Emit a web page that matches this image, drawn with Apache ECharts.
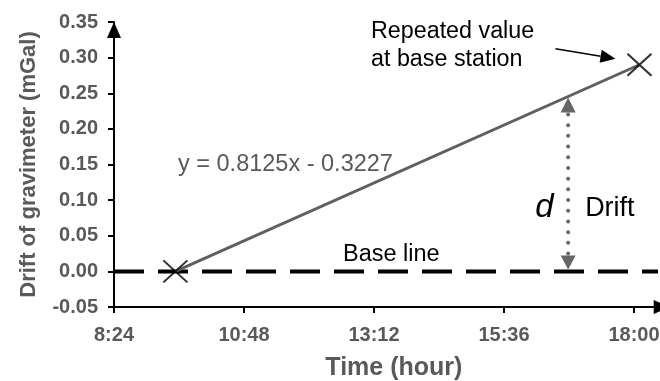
<!DOCTYPE html>
<html>
<head>
<meta charset="utf-8">
<script src="https://cdn.jsdelivr.net/npm/echarts@6/dist/echarts.min.js"></script>
<style>
  html, body { margin: 0; padding: 0; background: #ffffff; }
  #chart { width: 660px; height: 381px; }
</style>
</head>
<body>
<div id="chart"></div>
<script>
// Time values are minutes after midnight.
const timeTicks = [504, 648, 792, 936, 1080];
const timeTickLabels = ['8:24', '10:48', '13:12', '15:36', '18:00'];
const timeRange = [504, 1104];

// Drift axis (mGal)
const driftRange = [-0.05, 0.35];
const driftStep = 0.05;

// Base-station readings: first occupation and the repeated value
const stationTimes = [572, 1086];
const stationDrift = [0, 0.29];

// Linear drift fit, x in fractions of a day
const fitSlope = 0.8125;
const fitIntercept = -0.3227;

// Reference base line
const baseLineTimes = [504, 1110];
const baseLineValues = [0, 0];

// Time at which the drift d is indicated
const driftMarkTime = 1007;

const FONT = '"Liberation Sans", Arial, sans-serif';
const GREY = '#595959';

const chart = echarts.init(document.getElementById('chart'), null, { renderer: 'canvas' });

const labelFor = v => {
  const i = timeTicks.indexOf(v);
  return i >= 0 ? timeTickLabels[i] : '';
};

chart.setOption({
  animation: false,
  backgroundColor: '#ffffff',
  grid: { left: 114, right: 4.3, top: 22, bottom: 74, containLabel: false, outerBoundsMode: 'none' },
  xAxis: {
    type: 'value',
    min: timeRange[0],
    max: timeRange[1],
    name: 'Time (hour)',
    nameLocation: 'middle',
    nameGap: 49,
    nameTextStyle: { fontFamily: FONT, fontWeight: 'bold', fontSize: 25, color: GREY, padding: [0, 0, 0, 18] },
    axisLine: {
      show: true, onZero: false,
      lineStyle: { color: '#000', width: 2 },
      symbol: ['none', 'triangle'], symbolSize: [14, 16], symbolOffset: [0, 6]
    },
    axisTick: { show: true, length: 6, customValues: timeTicks, lineStyle: { color: '#000', width: 2 } },
    axisLabel: {
      customValues: timeTicks, formatter: labelFor, margin: 18,
      fontFamily: FONT, fontWeight: 'bold', fontSize: 20, color: GREY
    },
    splitLine: { show: false }
  },
  yAxis: {
    type: 'value',
    min: driftRange[0],
    max: driftRange[1],
    interval: driftStep,
    name: 'Drift of gravimeter (mGal)',
    nameLocation: 'middle',
    nameGap: 74,
    nameTextStyle: { fontFamily: FONT, fontWeight: 'bold', fontSize: 22, color: GREY },
    axisLine: {
      show: true, onZero: false,
      lineStyle: { color: '#000', width: 2 },
      symbol: ['none', 'triangle'], symbolSize: [14, 16], symbolOffset: [0, -8]
    },
    axisTick: { show: true, length: 6, lineStyle: { color: '#000', width: 2 } },
    axisLabel: {
      margin: 16, formatter: v => v.toFixed(2),
      fontFamily: FONT, fontWeight: 'bold', fontSize: 20, color: GREY
    },
    splitLine: { show: false }
  },
  series: [
    {
      name: 'Base line',
      type: 'line',
      data: baseLineTimes.map((t, i) => [t, baseLineValues[i]]),
      symbol: 'none',
      clip: false,
      lineStyle: { color: '#000', width: 4, type: [30, 14] },
      z: 2
    },
    {
      name: 'Drift fit',
      type: 'line',
      data: stationTimes.map((t, i) => [t, stationDrift[i]]),
      symbol: 'none',
      lineStyle: { color: '#5f5f5f', width: 3 },
      z: 3
    },
    {
      name: 'Base station',
      type: 'scatter',
      data: stationTimes.map((t, i) => [t, stationDrift[i]]),
      symbol: 'path://M0,0L24,22M24,0L0,22',
      symbolSize: [24, 22],
      itemStyle: { color: 'none', borderColor: '#000', borderWidth: 2 },
      z: 5
    }
  ]
});

// Annotations placed from data positions through the chart's own scales
const px = (t, v) => chart.convertToPixel({ gridIndex: 0 }, [t, v]);
const driftTop = fitSlope * (driftMarkTime / 1440) + fitIntercept;
const pTop = px(driftMarkTime, driftTop);
const pBase = px(driftMarkTime, 0);
const pRepeat = px(stationTimes[1], stationDrift[1]);

const dx = pTop[0];
const topTip = pTop[1] + 1;
const botTip = pBase[1] - 2;

// pointer arrow toward the repeated value
const tip = [pRepeat[0] - 24, pRepeat[1] - 6];
const tail = [tip[0] - 60, tip[1] - 10];
const len = Math.hypot(tip[0] - tail[0], tip[1] - tail[1]);
const ux = (tip[0] - tail[0]) / len, uy = (tip[1] - tail[1]) / len;
const headLen = 15, headHalf = 6.5;
const hb = [tip[0] - ux * headLen, tip[1] - uy * headLen];

chart.setOption({
  graphic: [
    // dotted drift indicator
    {
      type: 'line', silent: true, z: 10,
      shape: { x1: dx, y1: topTip + 17, x2: dx, y2: botTip - 15 },
      style: { stroke: '#666', lineWidth: 4, lineCap: 'round', lineDash: [0, 10.7] }
    },
    {
      type: 'polygon', silent: true, z: 10,
      shape: { points: [[dx, topTip], [dx - 7.5, topTip + 15], [dx + 7.5, topTip + 15]] },
      style: { fill: '#666' }
    },
    {
      type: 'polygon', silent: true, z: 10,
      shape: { points: [[dx, botTip], [dx - 7.5, botTip - 14], [dx + 7.5, botTip - 14]] },
      style: { fill: '#666' }
    },
    {
      type: 'text', z: 10,
      style: { text: 'd', x: dx - 33, y: pBase[1] - 64, fontFamily: FONT, fontStyle: 'italic', fontSize: 33, fill: '#000', textVerticalAlign: 'middle' }
    },
    {
      type: 'text', z: 10,
      style: { text: 'Drift', x: dx + 17, y: pBase[1] - 63, fontFamily: FONT, fontSize: 27, fill: '#000', textVerticalAlign: 'middle' }
    },
    // base line caption
    {
      type: 'text', z: 10,
      style: { text: 'Base line', x: 343, y: pBase[1] - 17, fontFamily: FONT, fontSize: 23.5, fill: '#000', textVerticalAlign: 'middle' }
    },
    // fit equation
    {
      type: 'text', z: 10,
      style: { text: 'y = 0.8125x - 0.3227', x: 178, y: 165, fontFamily: FONT, fontSize: 23.5, fill: GREY, textVerticalAlign: 'middle' }
    },
    // repeated value caption and pointer
    {
      type: 'text', z: 10,
      style: { text: 'Repeated value', x: 371, y: 32, fontFamily: FONT, fontSize: 23.3, fill: '#000', textVerticalAlign: 'middle' }
    },
    {
      type: 'text', z: 10,
      style: { text: 'at base station', x: 371, y: 60, fontFamily: FONT, fontSize: 23.3, fill: '#000', textVerticalAlign: 'middle' }
    },
    {
      type: 'line', silent: true, z: 10,
      shape: { x1: tail[0], y1: tail[1], x2: hb[0], y2: hb[1] },
      style: { stroke: '#000', lineWidth: 1.5 }
    },
    {
      type: 'polygon', silent: true, z: 10,
      shape: { points: [tip, [hb[0] - uy * headHalf, hb[1] + ux * headHalf], [hb[0] + uy * headHalf, hb[1] - ux * headHalf]] },
      style: { fill: '#000' }
    }
  ]
});
</script>
</body>
</html>
